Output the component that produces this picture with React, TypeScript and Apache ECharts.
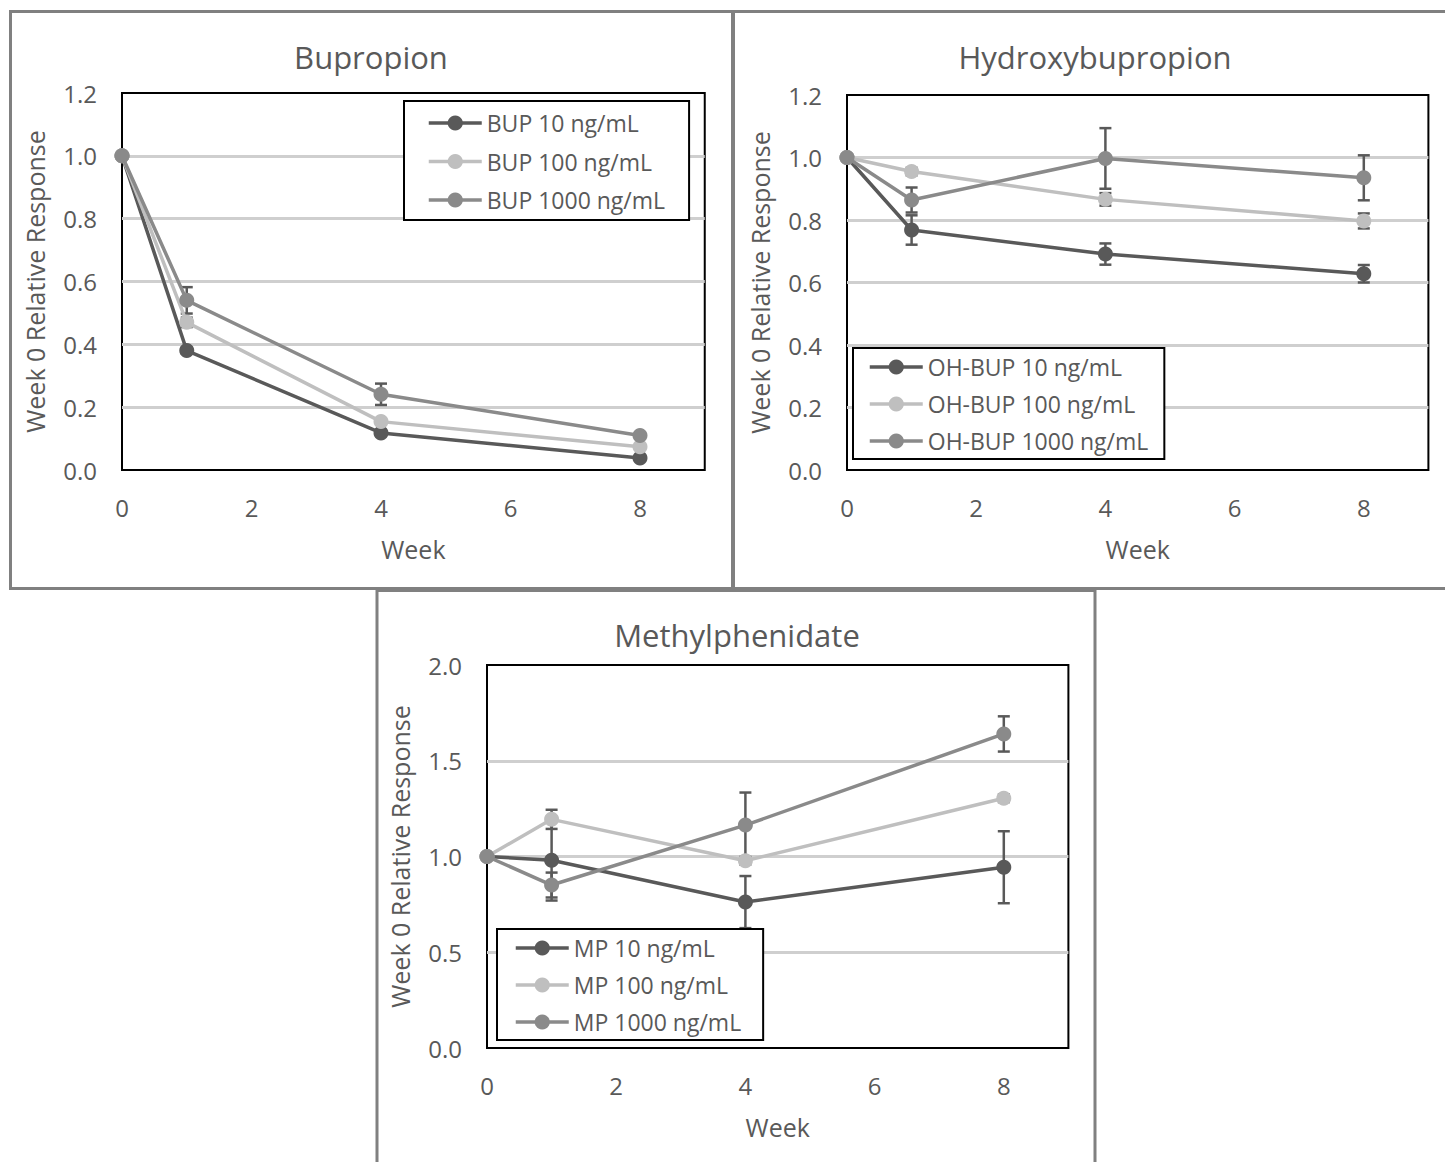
import React, { useEffect, useRef } from "react";
import * as echarts from "echarts";

// ---------- data ----------
const weeks = [0, 1, 4, 8];

const panelTitles = ["Bupropion", "Hydroxybupropion", "Methylphenidate"];
const xAxisTitle = "Week";
const yAxisTitle = "Week 0 Relative Response";

const bupNames = ["BUP 10 ng/mL", "BUP 100 ng/mL", "BUP 1000 ng/mL"];
const bup10 = [1.0, 0.38, 0.118, 0.038];
const bup100 = [1.0, 0.47, 0.154, 0.074];
const bup1000 = [1.0, 0.54, 0.241, 0.11];
const bup10Err = [0, 0.01, 0.01, 0.005];
const bup100Err = [0, 0.015, 0.01, 0.005];
const bup1000Err = [0, 0.042, 0.034, 0.01];

const ohNames = ["OH-BUP 10 ng/mL", "OH-BUP 100 ng/mL", "OH-BUP 1000 ng/mL"];
const oh10 = [1.0, 0.768, 0.691, 0.628];
const oh100 = [1.0, 0.955, 0.866, 0.797];
const oh1000 = [1.0, 0.864, 0.997, 0.935];
const oh10Err = [0, 0.047, 0.034, 0.028];
const oh100Err = [0, 0.012, 0.02, 0.024];
const oh1000Err = [0, 0.04, 0.097, 0.072];

const mpNames = ["MP 10 ng/mL", "MP 100 ng/mL", "MP 1000 ng/mL"];
const mp10 = [1.0, 0.98, 0.762, 0.944];
const mp100 = [1.0, 1.194, 0.978, 1.304];
const mp1000 = [1.0, 0.851, 1.164, 1.64];
const mp10Err = [0, 0.21, 0.136, 0.188];
const mp100Err = [0, 0.05, 0.02, 0.02];
const mp1000Err = [0, 0.065, 0.17, 0.092];

const yMax = [1.2, 1.2, 2.0];
const yInterval = [0.2, 0.2, 0.5];
const xMax = 9;
const xInterval = 2;

// ---------- styles ----------
const FONT = "Open Sans";
const TEXT = "#595959";
const COLORS = ["#595959", "#bfbfbf", "#8a8a8a"];
const ERR = "#595959";

export default function App() {
  const ref = useRef<HTMLDivElement>(null);

  useEffect(() => {
    document.body.style.margin = "0";
    if (!ref.current) return;
    const chart = echarts.init(ref.current, undefined, { renderer: "svg" });

    const panels = [
      { names: bupNames, vals: [bup10, bup100, bup1000], errs: [bup10Err, bup100Err, bup1000Err] },
      { names: ohNames, vals: [oh10, oh100, oh1000], errs: [oh10Err, oh100Err, oh1000Err] },
      { names: mpNames, vals: [mp10, mp100, mp1000], errs: [mp10Err, mp100Err, mp1000Err] },
    ];

    const grids = [
      { left: 122, top: 93, width: 582.75, height: 377 },
      { left: 847, top: 95, width: 581.4, height: 375 },
      { left: 487, top: 665, width: 581.4, height: 383 },
    ];

    const legendPos = [
      { left: 404, top: 101, padding: [9, 24, 7, 23], itemGap: 12.5 },
      { left: 853, top: 348, padding: [6, 16, 5, 15], itemGap: 11 },
      { left: 497, top: 929, padding: [6, 22, 5, 17], itemGap: 11 },
    ];

    const series: any[] = [];
    panels.forEach((p, gi) => {
      p.names.forEach((name, si) => {
        const vals = p.vals[si];
        const errs = p.errs[si];
        series.push({
          type: "custom",
          name: name + " error",
          xAxisIndex: gi,
          yAxisIndex: gi,
          z: 1,
          silent: true,
          data: weeks.map((w, i) => [w, vals[i], errs[i]]).filter((d) => d[2] > 0),
          encode: { x: 0, y: 1 },
          renderItem: (_params: any, api: any) => {
            const x = api.value(0);
            const y = api.value(1);
            const e = api.value(2);
            const t = api.coord([x, y + e]);
            const b = api.coord([x, y - e]);
            const h = 6;
            const st = { stroke: ERR, lineWidth: 2.5 };
            return {
              type: "group",
              children: [
                { type: "line", shape: { x1: t[0], y1: t[1], x2: b[0], y2: b[1] }, style: st },
                { type: "line", shape: { x1: t[0] - h, y1: t[1], x2: t[0] + h, y2: t[1] }, style: st },
                { type: "line", shape: { x1: b[0] - h, y1: b[1], x2: b[0] + h, y2: b[1] }, style: st },
              ],
            };
          },
        });
      });
      p.names.forEach((name, si) => {
        series.push({
          type: "line",
          name,
          xAxisIndex: gi,
          yAxisIndex: gi,
          z: 2 + si,
          data: weeks.map((w, i) => [w, p.vals[si][i]]),
          symbol: "circle",
          symbolSize: 15,
          lineStyle: { color: COLORS[si], width: 3.5 },
          itemStyle: { color: COLORS[si] },
        });
      });
    });

    const option: any = {
      animation: false,
      grid: grids.map((g) => ({
        ...g,
        show: true,
        borderColor: "#000",
        borderWidth: 2,
        backgroundColor: "transparent",
      })),
      xAxis: grids.map((_g, i) => ({
        type: "value",
        gridIndex: i,
        min: 0,
        max: xMax,
        interval: xInterval,
        name: xAxisTitle,
        nameLocation: "middle",
        nameGap: 66,
        nameTextStyle: { fontSize: 25, color: TEXT, fontFamily: FONT },
        axisLine: { show: false },
        axisTick: { show: false },
        splitLine: { show: false },
        axisLabel: { fontSize: 24, color: TEXT, fontFamily: FONT, margin: 25, showMaxLabel: false },
      })),
      yAxis: grids.map((_g, i) => ({
        type: "value",
        gridIndex: i,
        min: 0,
        max: yMax[i],
        interval: yInterval[i],
        name: yAxisTitle,
        nameLocation: "middle",
        nameGap: 75,
        nameTextStyle: { fontSize: 25, color: TEXT, fontFamily: FONT },
        axisLine: { show: false },
        axisTick: { show: false },
        splitLine: {
          show: true,
          showMinLine: false,
          showMaxLine: false,
          lineStyle: { color: "#cfcfcf", width: 3 },
        },
        axisLabel: {
          fontSize: 24,
          color: TEXT,
          fontFamily: FONT,
          margin: 25,
          formatter: (v: number) => v.toFixed(1),
        },
      })),
      legend: panels.map((p, i) => ({
        ...legendPos[i],
        orient: "vertical",
        data: p.names,
        itemWidth: 53,
        itemHeight: 19,
        borderColor: "#000",
        borderWidth: 2,
        borderRadius: 0,
        backgroundColor: "#fff",
        selectedMode: false,
        lineStyle: { width: 3.5 },
        textStyle: { fontSize: 23, color: TEXT, fontFamily: FONT, lineHeight: 26 },
      })),
      graphic: [
        { type: "rect", shape: { x: 10.5, y: 11.5, width: 722, height: 577 }, style: { fill: "none", stroke: "#808080", lineWidth: 3 }, silent: true },
        { type: "rect", shape: { x: 733.5, y: 11.5, width: 800, height: 577 }, style: { fill: "none", stroke: "#808080", lineWidth: 3 }, silent: true },
        { type: "rect", shape: { x: 377, y: 590.5, width: 718, height: 650 }, style: { fill: "none", stroke: "#808080", lineWidth: 3 }, silent: true },
        ...[
          { x: 371, y: 57 },
          { x: 1095, y: 57 },
          { x: 737, y: 635 },
        ].map((pos, i) => ({
          type: "text",
          x: pos.x,
          y: pos.y,
          silent: true,
          style: {
            text: panelTitles[i],
            fontSize: 31,
            fontFamily: FONT,
            fill: TEXT,
            align: "center",
            verticalAlign: "middle",
            textAlign: "center",
            textVerticalAlign: "middle",
          },
        })),
      ],
      series,
    };

    chart.setOption(option);
    return () => chart.dispose();
  }, []);

  return <div ref={ref} style={{ width: 1445, height: 1162 }} />;
}
